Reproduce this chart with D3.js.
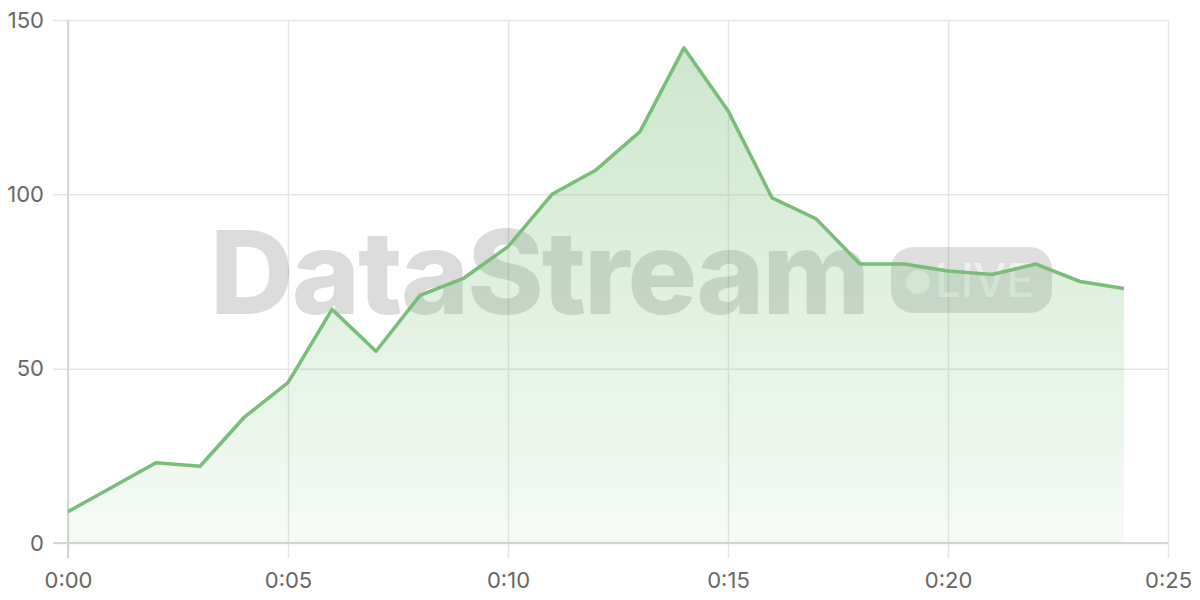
<!DOCTYPE html>
<html>
<head>
<meta charset="utf-8">
<script src="https://cdn.jsdelivr.net/npm/d3@7"></script>
<style>
  html, body { margin: 0; padding: 0; background: #fff; }
  svg { display: block; }
</style>
</head>
<body>
<svg id="chart" width="1200" height="600"></svg>
<script>
// minutes since start and the value at each minute
const minutes = [0, 1, 2, 3, 4, 5, 6, 7, 8, 9, 10, 11, 12, 13, 14, 15, 16, 17, 18, 19, 20, 21, 22, 23, 24];
const values = [9, 16, 23, 22, 36, 46, 67, 55, 71, 76, 85, 100, 107, 118, 142, 124, 99, 93, 80, 80, 78, 77, 80, 75, 73];
const xTicks = [0, 5, 10, 15, 20, 25];
const yTicks = [0, 50, 100, 150];

const width = 1200, height = 600, margin = {top: 20, right: 32, bottom: 57, left: 68};
const innerW = width - margin.left - margin.right;
const innerH = height - margin.top - margin.bottom;

const svg = d3.select("#chart");
const g = svg.append("g").attr("transform", `translate(${margin.left},${margin.top})`);

const x = d3.scaleLinear().domain([0, 25]).range([0, innerW]);
const y = d3.scaleLinear().domain([0, 150]).range([innerH, 0]);

const data = minutes.map((m, i) => ({m: m, v: values[i]}));
const fmt = (m) => `0:${String(m).padStart(2, "0")}`;

// grid via axes
const yAxis = g.append("g")
    .call(d3.axisLeft(y).tickValues(yTicks).tickSize(-innerW).tickPadding(24).tickFormat(d3.format("d")));
yAxis.select(".domain").remove();
yAxis.selectAll("line").attr("x1", -15).attr("stroke", "#e6e6e6").attr("stroke-width", 1.5);
yAxis.selectAll("text")
    .attr("x", -24)
    .attr("fill", "#666")
    .style("font-family", "Inter, 'Noto Sans', sans-serif")
    .style("font-size", "22px");

const xAxis = g.append("g")
    .attr("transform", `translate(0,${innerH})`)
    .call(d3.axisBottom(x).tickValues(xTicks).tickSize(-innerH).tickPadding(29).tickFormat(fmt));
xAxis.select(".domain").remove();
xAxis.selectAll("line").attr("y1", 15).attr("stroke", "#e6e6e6").attr("stroke-width", 1.5);
xAxis.selectAll("text")
    .attr("fill", "#666")
    .style("font-family", "Inter, 'Noto Sans', sans-serif")
    .style("font-size", "22px");

// axis lines a bit darker
g.append("line").attr("x1", 0).attr("x2", 0).attr("y1", 0).attr("y2", innerH + 15)
    .attr("stroke", "#d4d4d4").attr("stroke-width", 2);
g.append("line").attr("x1", -15).attr("x2", innerW).attr("y1", innerH).attr("y2", innerH)
    .attr("stroke", "#d4d4d4").attr("stroke-width", 2);

// watermark
const wm = g.append("g").attr("pointer-events", "none");
wm.append("text")
    .attr("x", 142)
    .attr("y", 294)
    .attr("fill", "#000")
    .attr("fill-opacity", 0.14)
    .style("font-family", "Inter, 'Noto Sans', sans-serif")
    .style("font-weight", 800)
    .style("font-size", "116px")
    .style("letter-spacing", "-2px")
    .text("DataStream");
wm.append("rect")
    .attr("x", 823).attr("y", 227)
    .attr("width", 161).attr("height", 66)
    .attr("rx", 22)
    .attr("fill", "#000")
    .attr("fill-opacity", 0.13);
wm.append("circle")
    .attr("cx", 850).attr("cy", 262).attr("r", 12)
    .attr("fill", "#fff").attr("fill-opacity", 0.55);
wm.append("text")
    .attr("x", 867)
    .attr("y", 277)
    .attr("fill", "#fff")
    .attr("fill-opacity", 0.55)
    .style("font-family", "Inter, 'Noto Sans', sans-serif")
    .style("font-weight", 500)
    .style("font-size", "46px")
    .text("LIVE");

// gradient fill
const grad = svg.append("defs").append("linearGradient")
    .attr("id", "fillGrad")
    .attr("gradientUnits", "userSpaceOnUse")
    .attr("x1", 0).attr("x2", 0)
    .attr("y1", y(142)).attr("y2", innerH);
grad.append("stop").attr("offset", "0%").attr("stop-color", "#78bf78").attr("stop-opacity", 0.38);
grad.append("stop").attr("offset", "100%").attr("stop-color", "#78bf78").attr("stop-opacity", 0.07);

const area = d3.area()
    .x((d) => x(d.m))
    .y0(y(0))
    .y1((d) => y(d.v));

const line = d3.line()
    .x((d) => x(d.m))
    .y((d) => y(d.v));

g.append("path")
    .datum(data)
    .attr("fill", "url(#fillGrad)")
    .attr("d", area);

g.append("path")
    .datum(data)
    .attr("fill", "none")
    .attr("stroke", "#78bd78")
    .attr("stroke-width", 3.5)
    .attr("stroke-linejoin", "round")
    .attr("d", line);
</script>
</body>
</html>
